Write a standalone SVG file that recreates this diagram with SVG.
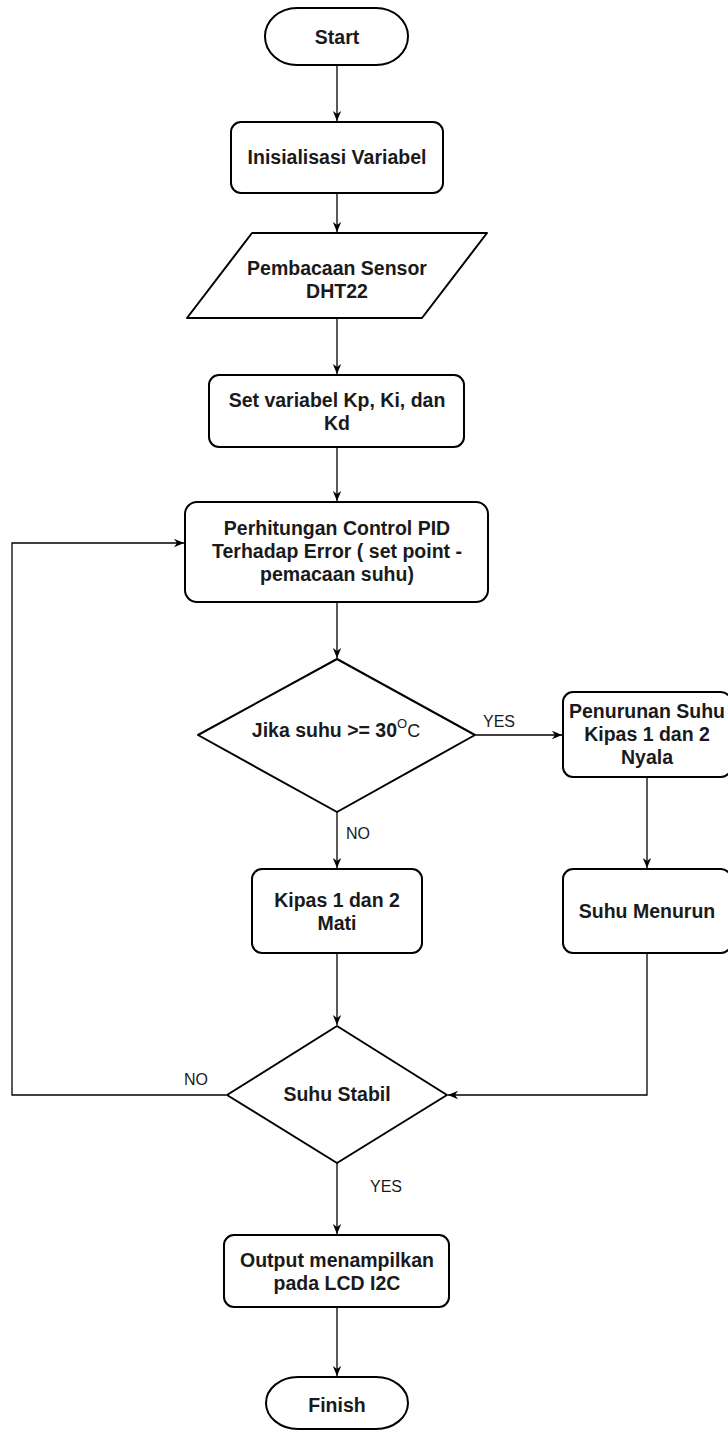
<svg xmlns="http://www.w3.org/2000/svg" width="728" height="1430" viewBox="0 0 728 1430">
<defs>
<style>
.shape{fill:#fff;stroke:#000;stroke-width:2}
.t{font-family:"Liberation Sans",Arial,sans-serif;font-weight:bold;font-size:19.5px;fill:#1a1a1a;text-anchor:middle}
.lbl{font-family:"Liberation Sans",Arial,sans-serif;font-size:16px;fill:#1a1a1a;text-anchor:middle}
.c{fill:none;stroke:#000;stroke-width:1.3}
</style>
<marker id="arr" markerUnits="userSpaceOnUse" markerWidth="12" markerHeight="10" refX="10" refY="5" orient="auto">
<path d="M0,0.8 L10,5 L0,9.2 L3,5 Z" fill="#000"/>
</marker>
</defs>
<rect width="728" height="1430" fill="#fff"/>
<g id="connectors">
<path class="c" d="M337 65 V121" marker-end="url(#arr)"/>
<path class="c" d="M337 193 V232" marker-end="url(#arr)"/>
<path class="c" d="M337 318 V374" marker-end="url(#arr)"/>
<path class="c" d="M337 447 V501" marker-end="url(#arr)"/>
<path class="c" d="M337 602 V658" marker-end="url(#arr)"/>
<path class="c" d="M476 735 H562" marker-end="url(#arr)"/>
<path class="c" d="M337 812 V868" marker-end="url(#arr)"/>
<path class="c" d="M647 777 V868" marker-end="url(#arr)"/>
<path class="c" d="M337 953 V1025" marker-end="url(#arr)"/>
<path class="c" d="M647 953 V1095 H448" marker-end="url(#arr)"/>
<path class="c" d="M226 1095 H12 V543 H184" marker-end="url(#arr)"/>
<path class="c" d="M337 1163 V1234" marker-end="url(#arr)"/>
<path class="c" d="M337 1307 V1376" marker-end="url(#arr)"/>
<text class="lbl" x="499" y="727">YES</text>
<text class="lbl" x="358" y="839">NO</text>
<text class="lbl" x="196" y="1085">NO</text>
<text class="lbl" x="386" y="1192">YES</text>
</g>
<g id="start">
<rect class="shape" x="265" y="8" width="143" height="57" rx="32" ry="28.5"/>
<text class="t" x="337" y="44">Start</text>
</g>
<g id="init">
<rect class="shape" x="231" y="122" width="212" height="71" rx="10"/>
<text class="t" x="337" y="164">Inisialisasi Variabel</text>
</g>
<g id="read">
<path class="shape" d="M252 233 H487 L422 318 H187 Z" stroke-linejoin="round"/>
<text class="t" x="337" y="275">Pembacaan Sensor</text>
<text class="t" x="337" y="298">DHT22</text>
</g>
<g id="setvar">
<rect class="shape" x="209" y="375" width="255" height="72" rx="10"/>
<text class="t" x="337" y="407">Set variabel Kp, Ki, dan</text>
<text class="t" x="337" y="430">Kd</text>
</g>
<g id="pid">
<rect class="shape" x="185" y="502" width="303" height="100" rx="12"/>
<text class="t" x="337" y="535">Perhitungan Control PID</text>
<text class="t" x="337" y="558">Terhadap Error ( set point -</text>
<text class="t" x="337" y="581">pemacaan suhu)</text>
</g>
<g id="decision1">
<path class="shape" d="M337 659 L475 735 L337 812 L198 735 Z" stroke-linejoin="round"/>
<text class="t" x="336" y="737">Jika suhu &gt;= 30<tspan font-weight="normal" font-size="13" dy="-9">O</tspan><tspan font-weight="normal" font-size="18" dy="9">C</tspan></text>
</g>
<g id="fanon">
<rect class="shape" x="563" y="692" width="168" height="85" rx="10"/>
<text class="t" x="647" y="718">Penurunan Suhu</text>
<text class="t" x="647" y="741">Kipas 1 dan 2</text>
<text class="t" x="647" y="764">Nyala</text>
</g>
<g id="fanoff">
<rect class="shape" x="252" y="869" width="170" height="84" rx="10"/>
<text class="t" x="337" y="907">Kipas 1 dan 2</text>
<text class="t" x="337" y="930">Mati</text>
</g>
<g id="down">
<rect class="shape" x="563" y="869" width="168" height="84" rx="10"/>
<text class="t" x="647" y="918">Suhu Menurun</text>
</g>
<g id="decision2">
<path class="shape" d="M337 1026 L447 1095 L337 1163 L227 1095 Z" stroke-linejoin="round"/>
<text class="t" x="337" y="1101">Suhu Stabil</text>
</g>
<g id="output">
<rect class="shape" x="224" y="1235" width="225" height="72" rx="10"/>
<text class="t" x="337" y="1267">Output menampilkan</text>
<text class="t" x="337" y="1290">pada LCD I2C</text>
</g>
<g id="finish">
<rect class="shape" x="266" y="1377" width="142" height="52" rx="32" ry="26"/>
<text class="t" x="337" y="1412">Finish</text>
</g>
</svg>
